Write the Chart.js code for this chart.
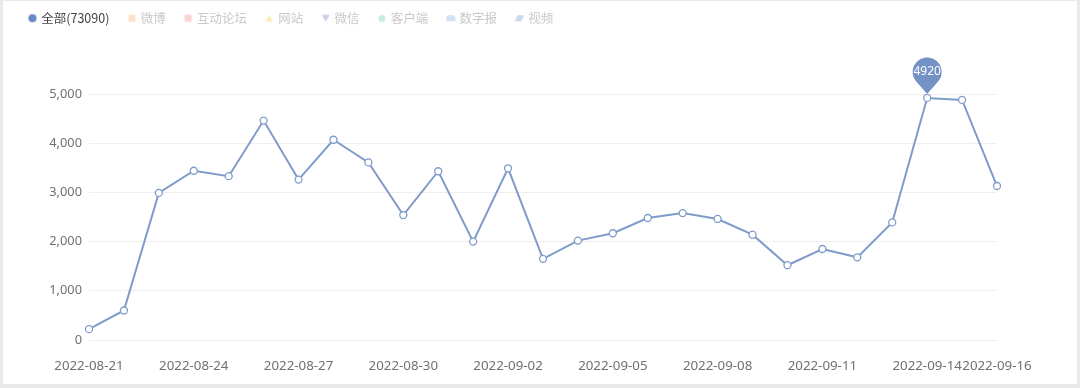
<!DOCTYPE html>
<html>
<head>
<meta charset="utf-8">
<script src="https://cdn.jsdelivr.net/npm/chart.js@4"></script>
<style>
  html, body { margin: 0; padding: 0; }
  body { width: 1080px; height: 388px; background: #e9e9e9; position: relative; overflow: hidden; }
  .card { position: absolute; left: 3px; top: 1px; width: 1074px; height: 383px; background: #fff; }
  .wrap { position: absolute; left: 0; top: 0; width: 1080px; height: 388px; }
</style>
</head>
<body>
<div class="card"></div>
<div class="wrap"><canvas id="chartTrend"></canvas></div>
<script>
const dates = [
  "2022-08-21", "2022-08-22", "2022-08-23", "2022-08-24", "2022-08-25", "2022-08-26",
  "2022-08-27", "2022-08-28", "2022-08-29", "2022-08-30", "2022-08-31", "2022-09-01",
  "2022-09-02", "2022-09-03", "2022-09-04", "2022-09-05", "2022-09-06", "2022-09-07",
  "2022-09-08", "2022-09-09", "2022-09-10", "2022-09-11", "2022-09-12", "2022-09-13",
  "2022-09-14", "2022-09-15", "2022-09-16"
];
const counts = [
  220, 600, 2990, 3440, 3330, 4460, 3260, 4070, 3610, 2540, 3430, 2000, 3490, 1650,
  2020, 2170, 2480, 2580, 2460, 2140, 1520, 1850, 1680, 2390, 4920, 4880, 3130
];
const seriesNames = ["全部(73090)", "微博", "互动论坛", "网站", "微信", "客户端", "数字报", "视频"];
const seriesColors = ["#6688c6", "#fde1c9", "#fcd3d3", "#feeabf", "#cbcdea", "#c4edda", "#d0e1f6", "#c9d6ef"];
const markerShapes = ["circle", "rect", "rect", "triangle", "triangleDown", "pentagon", "roundRect", "parallelogram"];
const yTicks = [0, 1000, 2000, 3000, 4000, 5000];

const lineColor = "#7e9bca";

function makeMarker(shape, color) {
  const c = document.createElement("canvas");
  c.width = 10; c.height = 10;
  const g = c.getContext("2d");
  g.fillStyle = color;
  g.beginPath();
  if (shape === "circle") {
    g.arc(5, 5, 4, 0, Math.PI * 2);
  } else if (shape === "rect") {
    g.rect(1.5, 1.5, 7, 7);
  } else if (shape === "triangle") {
    g.moveTo(5, 1.5); g.lineTo(9, 8.5); g.lineTo(1, 8.5);
  } else if (shape === "triangleDown") {
    g.moveTo(1, 1.5); g.lineTo(9, 1.5); g.lineTo(5, 8.5);
  } else if (shape === "pentagon") {
    for (let i = 0; i < 5; i++) {
      const a = -Math.PI / 2 + i * 2 * Math.PI / 5;
      const px = 5 + 4 * Math.cos(a), py = 5.3 + 4 * Math.sin(a);
      if (i === 0) g.moveTo(px, py); else g.lineTo(px, py);
    }
  } else if (shape === "roundRect") {
    g.moveTo(3, 2); g.lineTo(7, 2);
    g.quadraticCurveTo(9.5, 2, 9.5, 5); g.lineTo(9.5, 8); g.lineTo(0.5, 8); g.lineTo(0.5, 5);
    g.quadraticCurveTo(0.5, 2, 3, 2);
  } else if (shape === "parallelogram") {
    g.moveTo(3, 2); g.lineTo(9.5, 2); g.lineTo(7, 8); g.lineTo(0.5, 8);
  }
  g.closePath();
  g.fill();
  return c;
}

const markers = markerShapes.map((s, i) => makeMarker(s, seriesColors[i]));

const legendFit = {
  id: "legendFit",
  beforeUpdate(chart) {
    const lg = chart.legend;
    if (lg && !lg._patched) {
      const fit = lg.fit;
      lg.fit = function () { fit.call(this); this.height = 102; };
      lg._patched = true;
    }
  }
};

const pinLabel = {
  id: "pinLabel",
  afterDatasetsDraw(chart) {
    const idx = counts.indexOf(Math.max(...counts));
    const pt = chart.getDatasetMeta(0).data[idx];
    const ctx = chart.ctx;
    const cx = pt.x, cy = pt.y - 26, r = 14.5, ty = pt.y - 4;
    const th = Math.acos(r / (ty - cy));
    ctx.save();
    ctx.fillStyle = "#7493c5";
    ctx.beginPath();
    ctx.moveTo(cx, ty);
    ctx.arc(cx, cy, r, Math.PI / 2 - th, Math.PI / 2 + th, true);
    ctx.closePath();
    ctx.fill();
    ctx.fillStyle = "#fff";
    ctx.font = "12px 'Noto Sans', sans-serif";
    ctx.textAlign = "center";
    ctx.textBaseline = "middle";
    ctx.fillText(String(counts[idx]), cx, cy);
    ctx.restore();
  }
};

document.addEventListener("DOMContentLoaded", () => {
  const ctx = document.getElementById("chartTrend");

  const datasets = seriesNames.map((name, i) => ({
    label: name,
    data: i === 0 ? counts : [],
    borderColor: lineColor,
    borderWidth: 2,
    tension: 0,
    pointRadius: 3.5,
    pointBorderWidth: 1.3,
    pointBackgroundColor: "#fff",
    pointBorderColor: lineColor
  }));

  new Chart(ctx, {
    type: "line",
    data: { labels: dates, datasets },
    options: {
      responsive: true,
      maintainAspectRatio: false,
      animation: false,
      layout: { padding: { left: 10, right: 83, top: -8, bottom: 8 } },
      plugins: {
        tooltip: { enabled: false },
        legend: {
          position: "top",
          align: "start",
          onClick: () => {},
          labels: {
            usePointStyle: true,
            boxWidth: 5,
            boxHeight: 5,
            padding: 20,
            font: { family: "'Noto Sans CJK SC', 'Noto Sans', sans-serif", size: 12.5 },
            generateLabels: () => seriesNames.map((name, i) => ({
              text: name,
              fillStyle: seriesColors[i],
              strokeStyle: seriesColors[i],
              lineWidth: 0,
              pointStyle: markers[i],
              fontColor: i === 0 ? "#444" : "#c8c8c8",
              hidden: false,
              datasetIndex: i
            }))
          }
        }
      },
      scales: {
        x: {
          offset: false,
          grid: { display: false },
          border: { display: false },
          afterFit: (axis) => { axis.height = 40; },
          ticks: {
            autoSkip: false,
            maxRotation: 0,
            padding: 10,
            color: "#707070",
            font: { family: "'Noto Sans', sans-serif", size: 13.3 },
            callback: function (v, i) {
              return (i % 3 === 0 || i === dates.length - 1) ? dates[i] : "";
            }
          }
        },
        y: {
          min: 0,
          max: 5000,
          afterFit: (axis) => { axis.width = 79; },
          afterBuildTicks: (axis) => { axis.ticks = yTicks.map(v => ({ value: v })); },
          grid: { color: "#efefef", drawTicks: false },
          border: { display: false },
          ticks: {
            padding: 7,
            color: "#707070",
            font: { family: "'Noto Sans', sans-serif", size: 12.8 },
            callback: (v) => v.toLocaleString("en-US")
          }
        }
      }
    },
    plugins: [legendFit, pinLabel]
  });
});
</script>
</body>
</html>
